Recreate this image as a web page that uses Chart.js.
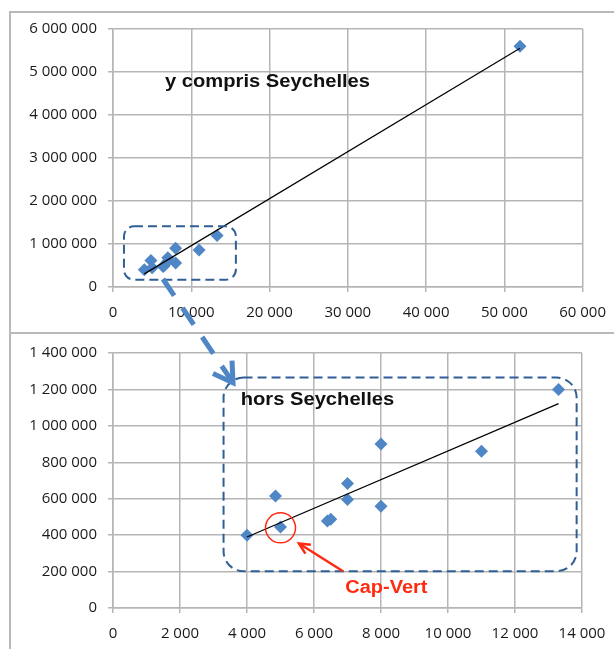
<!DOCTYPE html>
<html><head><meta charset="utf-8">
<script src="https://cdn.jsdelivr.net/npm/chart.js@4"></script>
<style>
html,body{margin:0;padding:0;background:#fff;}
#wrap{position:relative;width:614px;height:649px;overflow:hidden;background:#fff;}
.panel{position:absolute;border:2px solid #b9b9b9;box-sizing:border-box;}
canvas{position:absolute;left:0;}
</style></head><body>
<div id="wrap">
<div class="panel" style="left:9px;top:11px;width:700px;height:323px;"></div>
<div class="panel" style="left:9px;top:332px;width:700px;height:400px;"></div>
<canvas id="c1" width="614" height="333" style="top:0;width:614px;height:333px"></canvas>
<canvas id="c2" width="614" height="316" style="top:333px;width:614px;height:316px"></canvas>
<canvas id="ov" width="614" height="649" style="top:0;width:614px;height:649px"></canvas>
</div>
<script>
// ---- data ----
const countryX = [4000, 4850, 5000, 6400, 6500, 7000, 7000, 8000, 8000, 11000, 13300];
const countryY = [400000, 615000, 445000, 478000, 487000, 683000, 596000, 900000, 558000, 860000, 1200000];
const seychellesX = [52000];
const seychellesY = [5600000];
const trendAllX = [4000, 52000];
const trendAllY = [305000, 5550000];
const trendExX = [4000, 13300];
const trendExY = [390000, 1122000];
const xTicksTop = [0, 10000, 20000, 30000, 40000, 50000, 60000];
const yTicksTop = [0, 1000000, 2000000, 3000000, 4000000, 5000000, 6000000];
const xTicksBottom = [0, 2000, 4000, 6000, 8000, 10000, 12000, 14000];
const yTicksBottom = [0, 200000, 400000, 600000, 800000, 1000000, 1200000, 1400000];
const labelTop = 'y compris Seychelles';
const labelBottom = 'hors Seychelles';
const labelCapVert = 'Cap-Vert';

const fmt = v => String(v).replace(/\B(?=(\d{3})+(?!\d))/g, ' ');
const pts = (xs, ys) => xs.map((x, i) => ({x, y: ys[i]}));

const GRID = '#b5b5b5';
const BLUE = '#4f86c6';

function axes(xTicks, yTicks, xH) {
  const grid = {color: GRID, lineWidth: 1.5, tickLength: 5, drawTicks: true};
  return {
    x: {type: 'linear', min: xTicks[0], max: xTicks[xTicks.length - 1], grid,
        border: {color: GRID, width: 1.5},
        ticks: {color: '#1a1a1a', font: {family: '"Open Sans"', size: 15, lineHeight: 1.75}, padding: 8,
                callback: fmt, maxRotation: 0, autoSkip: false},
        afterBuildTicks: s => { s.ticks = xTicks.map(v => ({value: v})); },
        afterFit: s => { s.height = xH; }},
    y: {type: 'linear', min: yTicks[0], max: yTicks[yTicks.length - 1], grid,
        border: {color: GRID, width: 1.5},
        ticks: {color: '#1a1a1a', font: {family: '"Open Sans"', size: 15}, padding: 11, callback: fmt, autoSkip: false},
        afterBuildTicks: s => { s.ticks = yTicks.map(v => ({value: v})); },
        afterFit: s => { s.width = 113; }}
  };
}

function roundRect(ctx, x1, y1, x2, y2, r) {
  ctx.beginPath();
  ctx.moveTo(x1 + r, y1);
  ctx.lineTo(x2 - r, y1); ctx.arcTo(x2, y1, x2, y1 + r, r);
  ctx.lineTo(x2, y2 - r); ctx.arcTo(x2, y2, x2 - r, y2, r);
  ctx.lineTo(x1 + r, y2); ctx.arcTo(x1, y2, x1, y2 - r, r);
  ctx.lineTo(x1, y1 + r); ctx.arcTo(x1, y1, x1 + r, y1, r);
  ctx.closePath();
}
function drawText(ctx, txt, x, y, size, color, align, sx) {
  ctx.save(); ctx.translate(x, y); ctx.scale(sx, 1);
  ctx.font = 'bold ' + size + 'px "Liberation Sans", Arial, sans-serif';
  ctx.fillStyle = color; ctx.textAlign = align; ctx.textBaseline = 'middle';
  ctx.fillText(txt, 0, 0); ctx.restore();
}
function arrow(ctx, x1, y1, x2, y2, head, ang) {
  ctx.beginPath(); ctx.moveTo(x1, y1); ctx.lineTo(x2, y2); ctx.stroke();
  const a = Math.atan2(y2 - y1, x2 - x1);
  ctx.setLineDash([]);
  ctx.beginPath();
  ctx.moveTo(x2 - head * Math.cos(a - ang), y2 - head * Math.sin(a - ang));
  ctx.lineTo(x2, y2);
  ctx.lineTo(x2 - head * Math.cos(a + ang), y2 - head * Math.sin(a + ang));
  ctx.stroke();
}

// annotation definitions (data coordinates)
const topNotes = {box: [1400, 15700, 1410000, 170000], radius: 10, text: [6640, 4774000]};
const botNotes = {box: [3300, 13840, 1265000, 202000], radius: 20, text: [3812, 1143000],
                  circle: [5000, 440000], capArrow: [6866, 202000, 5552, 354000], capText: [8160, 110000]};

const notesPlugin = (notes, label) => ({
  id: 'notes',
  afterDraw(chart) {
    const ctx = chart.ctx, sx = chart.scales.x, sy = chart.scales.y;
    const X = v => sx.getPixelForValue(v), Y = v => sy.getPixelForValue(v);
    ctx.save();
    ctx.strokeStyle = '#2f5f95'; ctx.lineWidth = 2; ctx.setLineDash([9, 5]);
    roundRect(ctx, X(notes.box[0]), Y(notes.box[2]), X(notes.box[1]), Y(notes.box[3]), notes.radius);
    ctx.stroke();
    ctx.setLineDash([]);
    drawText(ctx, label, X(notes.text[0]), Y(notes.text[1]), 18, '#111', 'left', 1.12);
    if (notes.circle) {
      ctx.strokeStyle = '#ff2a10'; ctx.lineWidth = 1.5;
      ctx.beginPath(); ctx.arc(X(notes.circle[0]), Y(notes.circle[1]), 15, 0, Math.PI * 2); ctx.stroke();
      ctx.lineWidth = 2.5; ctx.lineCap = 'butt';
      const c = notes.capArrow;
      arrow(ctx, X(c[0]), Y(c[1]), X(c[2]), Y(c[3]), 12, 0.45);
      drawText(ctx, labelCapVert, X(notes.capText[0]), Y(notes.capText[1]), 18, '#ff2a10', 'center', 1.11);
    }
    ctx.restore();
  }
});

function makeChart(id, scatterX, scatterY, trendX, trendY, xT, yT, xH, padTop, padRight, notes, label) {
  return new Chart(document.getElementById(id), {
    type: 'scatter',
    data: {datasets: [
      {data: pts(trendX, trendY), showLine: true, borderColor: '#000', borderWidth: 1.2, pointRadius: 0, order: 0},
      {data: pts(scatterX, scatterY), pointStyle: 'rectRot', pointRadius: 6.5, pointHoverRadius: 6.5,
       backgroundColor: BLUE, borderColor: BLUE, borderWidth: 0, order: 1}
    ]},
    options: {
      responsive: false, animation: false, devicePixelRatio: 1,
      layout: {padding: {top: padTop, right: padRight, left: 0, bottom: 0}},
      plugins: {legend: {display: false}, tooltip: {enabled: false}},
      scales: axes(xT, yT, xH)
    },
    plugins: [notesPlugin(notes, label)]
  });
}

const c1 = makeChart('c1', countryX.concat(seychellesX), countryY.concat(seychellesY), trendAllX, trendAllY,
  xTicksTop, yTicksTop, 46, 29, 31, topNotes, labelTop);
const c2 = makeChart('c2', countryX, countryY, trendExX, trendExY,
  xTicksBottom, yTicksBottom, 41, 17, 32, botNotes, labelBottom);

// big dashed arrow linking the two panels
const linkFrom = [6383, 186000];   // in top chart data
const linkTo = [3582, 1237000];    // in bottom chart data
(function () {
  const ov = document.getElementById('ov').getContext('2d');
  const off2 = 333;
  const x1 = c1.scales.x.getPixelForValue(linkFrom[0]), y1 = c1.scales.y.getPixelForValue(linkFrom[1]);
  const x2 = c2.scales.x.getPixelForValue(linkTo[0]), y2 = c2.scales.y.getPixelForValue(linkTo[1]) + off2;
  ov.strokeStyle = BLUE; ov.lineWidth = 5; ov.lineCap = 'butt';
  ov.setLineDash([20, 15]);
  arrow(ov, x1, y1, x2, y2, 22, 0.55);
})();
</script>
</body></html>
